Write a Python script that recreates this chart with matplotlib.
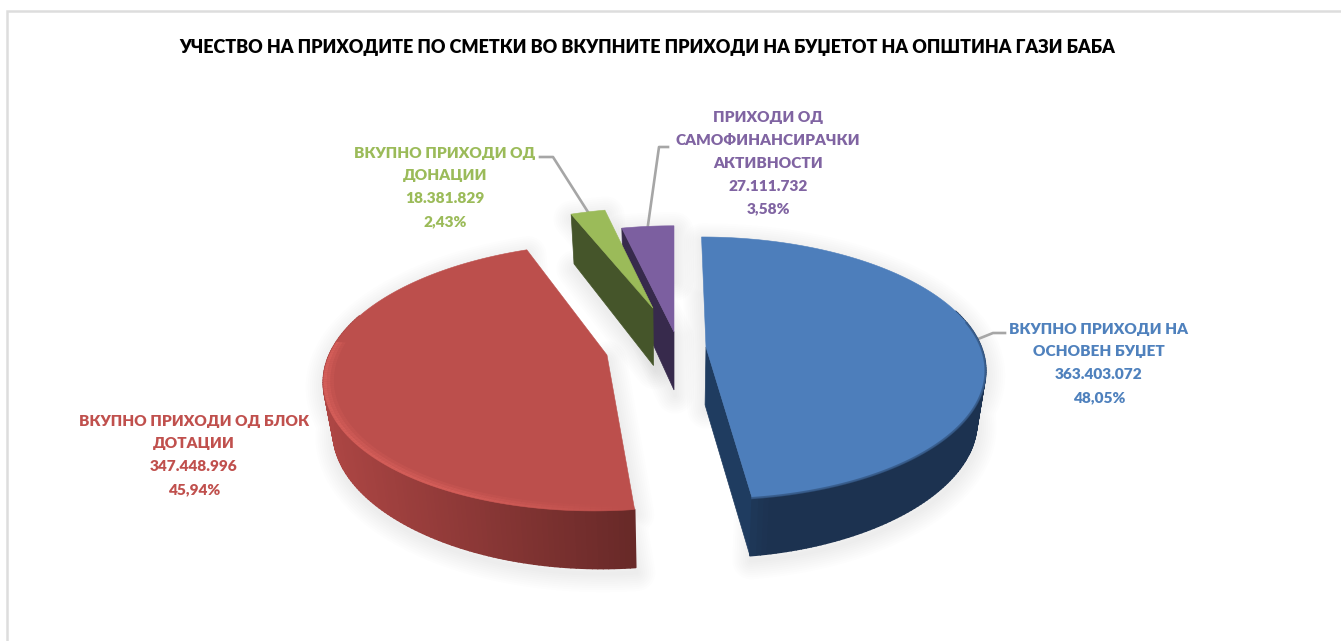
import numpy as np
import matplotlib
matplotlib.use("Agg")
import matplotlib.pyplot as plt
from matplotlib.collections import PolyCollection
from matplotlib.colors import to_rgb

plt.rcParams['font.family'] = ['Lato', 'Open Sans', 'DejaVu Sans']

# data
title = "УЧЕСТВО НА ПРИХОДИТЕ ПО СМЕТКИ ВО ВКУПНИТЕ ПРИХОДИ НА БУЏЕТОТ НА ОПШТИНА ГАЗИ БАБА"
names = [["ВКУПНО ПРИХОДИ НА", "ОСНОВЕН БУЏЕТ"],
         ["ВКУПНО ПРИХОДИ ОД БЛОК", "ДОТАЦИИ"],
         ["ВКУПНО ПРИХОДИ ОД", "ДОНАЦИИ"],
         ["ПРИХОДИ ОД", "САМОФИНАНСИРАЧКИ", "АКТИВНОСТИ"]]
values = [363403072, 347448996, 18381829, 27111732]

# styles
top_colors = ["#4d7ebb", "#bc4f4c", "#9bbb59", "#7c5fa0"]
text_colors = ["#4f81bd", "#c0504d", "#9bbb59", "#8064a2"]
side_left = ["#27486f", "#ad4644", "#45552a", "#372a4c"]
side_right = ["#1c3250", "#682928", "#45552a", "#372a4c"]
wall_colors = ["#1f3c60", None, "#45552a", "#372a4c"]
wall_end = [True, None, False, False]  # which radial wall shows: clockwise end or start

# slice shift from pie centre, in pie radii
offs_x = [0.1163, -0.2412, -0.0806, 0.0]
offs_y = [0.0, -0.0625, 0.32, 0.12]

# label placement (pixels): centre x, first line y
label_x = [1099, 194, 445, 768]
label_y = [329, 421, 153, 118]
line_step = 22.8
label_size = 11.1

# leader lines after the anchor on the slice
leaders = [[(993, 333), (1005, 333)],
           [(553, 157), (540, 157)],
           [(659, 147), (668, 147)]]
leader_slices = [0, 2, 3]

XC, YC = 674, 347
RX, RY = 275, 127.8
K = 0.1616
DEPTH = 58
SHRINK = 0.028

total = sum(values)
fracs = [v / total for v in values]
edges = np.cumsum([0] + fracs) * 2 * np.pi


def project(i, r, ang):
    wx = offs_x[i] + r * np.sin(ang)
    wy = offs_y[i] + r * np.cos(ang)
    s = 1 / (1 + K * wy)
    return XC + RX * wx * s, YC - RY * wy * s, s


def lower(x, y, s):
    # same point on the bottom of the slab, a bit smaller as it is further away
    d = DEPTH * np.minimum(1, s / 0.96) * (1 - 0.1 * ((x - XC) / 300) ** 2)
    return XC + (x - XC) * (1 - SHRINK), y + d


def shade(c1, c2, t):
    a, b = np.array(to_rgb(c1)), np.array(to_rgb(c2))
    return a + (b - a) * t


fig = plt.figure(figsize=(13.41, 6.41), dpi=100)
ax = fig.add_axes([0, 0, 1, 1])
ax.set_xlim(0, 1341)
ax.set_ylim(641, 0)
ax.axis("off")

# frame of the pasted picture
ax.plot([7.5, 7.5, 1341], [641, 10.5, 10.5], color="#dddddd", lw=1.8, solid_joinstyle="miter", zorder=1)

order = [3, 2, 0, 1]
z = 5
for i in order:
    a0, a1 = edges[i], edges[i + 1]
    arc = np.linspace(a0, a1, max(8, int((a1 - a0) * 60)))
    x, y, s = project(i, 1, arc)
    cx, cy, cs = project(i, 0, np.array([0.0]))
    xb, yb = lower(x, y, s)
    cxb, cyb = lower(cx, cy, cs)

    # soft shadow
    sil_x = np.r_[cx, x, xb[::-1], cxb]
    sil_y = np.r_[cy, y, yb[::-1], cyb]
    for w in range(3, 30, 3):
        ax.fill(sil_x + 1, sil_y + 5, facecolor="none", edgecolor="k", alpha=0.009, lw=w,
                joinstyle="round", zorder=2)

    # the radial wall that faces the viewer
    if wall_colors[i]:
        ang = a1 if wall_end[i] else a0
        ex, ey, es = project(i, 1, np.array([ang]))
        exb, eyb = lower(ex, ey, es)
        wall = [(cx[0], cy[0]), (ex[0], ey[0]), (exb[0], eyb[0]), (cxb[0], cyb[0])]
        ax.fill(*zip(*wall), color=wall_colors[i], lw=0.5, zorder=z)
    z += 1

    # outer rim, shaded left to right, only the part turned to the viewer
    lo, hi = x.min(), x.max()
    quads, cols = [], []
    for j in range(len(arc) - 1):
        if np.cos(arc[j]) > 0.3:
            continue
        quads.append([(x[j], y[j]), (x[j + 1], y[j + 1]), (xb[j + 1], yb[j + 1]), (xb[j], yb[j])])
        t = (x[j] - lo) / max(hi - lo, 1)
        if i == 0:
            t = min(1, t * 4)
        cols.append(shade(side_left[i], side_right[i], t))
    if quads:
        ax.add_collection(PolyCollection(quads, facecolors=cols, edgecolors=cols, linewidths=1.2, zorder=z))
    z += 1

    # top face
    ax.fill(np.r_[cx, x], np.r_[cy, y], color=top_colors[i], lw=0.4, zorder=z)
    z += 1

    # blue: soft edge to the dark rim
    if i == 0:
        front = np.cos(arc) < 0.2
        ax.plot(x[front], y[front], color=shade(top_colors[0], side_right[0], 0.5), lw=1.6, alpha=0.8, zorder=z)
        z += 1

    # red: lit band along the rim, fading to the front corner
    if i == 1:
        for r0, r1, alpha in [(0.988, 1.0, 0.85), (0.976, 0.988, 0.55), (0.964, 0.976, 0.25)]:
            xo, yo, so = project(i, r1, arc)
            xi, yi, si = project(i, r0, arc)
            quads, cols = [], []
            for j in range(len(arc) - 1):
                if np.cos(arc[j]) > 0.1:
                    continue
                fade = 1 - (xo[j] - lo) / (hi - lo)
                quads.append([(xo[j], yo[j]), (xo[j + 1], yo[j + 1]), (xi[j + 1], yi[j + 1]), (xi[j], yi[j])])
                cols.append((*to_rgb("#d8605b"), alpha * min(1, fade * 1.8)))
            ax.add_collection(PolyCollection(quads, facecolors=cols, edgecolors="none", zorder=z))
        z += 1

# leader lines
for i, pts in zip(leader_slices, leaders):
    mid = np.array([(edges[i] + edges[i + 1]) / 2])
    sx, sy, _ = project(i, 1, mid)
    xs = [sx[0]] + [p[0] for p in pts]
    ys = [sy[0]] + [p[1] for p in pts]
    ax.plot(xs, ys, color="#a6a6a6", lw=1.9, zorder=4)

# labels
for i, lines in enumerate(names):
    amount = f"{values[i]:,}".replace(",", ".")
    pct = f"{fracs[i] * 100:.2f}%".replace(".", ",")
    rows = lines + [amount, pct]
    for n, row in enumerate(rows):
        ax.text(label_x[i], label_y[i] + n * line_step, row, color=text_colors[i], fontsize=label_size,
                fontweight="heavy", ha="center", va="center", zorder=40)

ax.text(647, 47.5, title, color="black", fontsize=13.0, fontweight="heavy", ha="center", va="center", zorder=40)

fig.savefig("out.png", dpi=100)
